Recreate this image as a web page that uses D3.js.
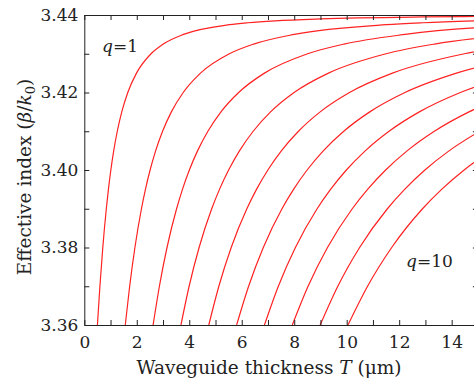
<!DOCTYPE html>
<html>
<head>
<meta charset="utf-8">
<script src="https://cdn.jsdelivr.net/npm/d3@7"></script>
<style>
  html, body { margin: 0; padding: 0; background: #fff; overflow: hidden; }
  text { font-family: "DejaVu Serif", "Liberation Serif", serif; fill: #222; }
  .axis path, .axis line { stroke: #222; stroke-width: 1; }
  .mode { fill: none; stroke: #f22; stroke-width: 1.2; }
</style>
</head>
<body>
<div id="container"></div>
<script>
//Effective index levels (shared by all modes) and thickness T where each mode reaches them
const neffLevels = [3.36, 3.37, 3.38, 3.39, 3.395, 3.40, 3.405, 3.41, 3.415, 3.42, 3.425, 3.43,
  3.4325, 3.435, 3.4375, 3.438, 3.4385, 3.439, 3.4395, 3.4396, 3.4397];

const mode1 = [0.50, 0.595, 0.705, 0.839, 0.919, 1.012, 1.122, 1.257, 1.428, 1.657, 1.989, 2.543, 3.007, 3.783, 5.534, 6.238, 7.271, 9.002, 12.91, 14.49, 16.79];
const mode2 = [1.561, 1.729, 1.929, 2.178, 2.330, 2.508, 2.721, 2.983, 3.318, 3.770, 4.428, 5.528, 6.453, 8.004, 11.501, 12.909, 14.974, 18.44];
const mode3 = [2.622, 2.862, 3.152, 3.517, 3.741, 4.004, 4.320, 4.710, 5.209, 5.882, 6.866, 8.513, 9.900, 12.224, 17.469];
const mode4 = [3.683, 3.995, 4.375, 4.856, 5.152, 5.500, 5.919, 6.436, 7.099, 7.995, 9.305, 11.499, 13.347, 16.445];
const mode5 = [4.744, 5.128, 5.598, 6.195, 6.563, 6.996, 7.517, 8.162, 8.989, 10.107, 11.743, 14.484, 16.794];
const mode6 = [5.805, 6.262, 6.822, 7.534, 7.974, 8.492, 9.116, 9.888, 10.879, 12.220, 14.182, 17.470];
const mode7 = [6.866, 7.395, 8.045, 8.873, 9.385, 9.988, 10.715, 11.614, 12.769, 14.332, 16.620];
const mode8 = [7.927, 8.528, 9.268, 10.212, 10.796, 11.484, 12.313, 13.341, 14.660, 16.445];
const mode9 = [8.988, 9.662, 10.492, 11.551, 12.207, 12.980, 13.912, 15.067];
const mode10 = [10.048, 10.795, 11.715, 12.890, 13.618, 14.476, 15.511];
const modes = [mode1, mode2, mode3, mode4, mode5, mode6, mode7, mode8, mode9, mode10];

//Ticks
const xTicks = [0, 1, 2, 3, 4, 5, 6, 7, 8, 9, 10, 11, 12, 13, 14, 15];
const yTicks = [3.36, 3.37, 3.38, 3.39, 3.40, 3.41, 3.42, 3.43, 3.44];

//Size of the SVG and plot frame (right side falls outside the picture)
const width = 474;
const height = 381;
const plotLeft = 84.3, plotRight = 477.9, plotTop = 15, plotBottom = 325;
const serif = '"DejaVu Serif", "Liberation Serif", serif';

const svg = d3.select('#container').append('svg')
  .attr('width', width)
  .attr('height', height)
  .style('display', 'block');

const x = d3.scaleLinear().domain([0, 15]).range([plotLeft, plotRight]);
const y = d3.scaleLinear().domain([3.36, 3.44]).range([plotBottom, plotTop]);

svg.append('clipPath').attr('id', 'plot-clip')
  .append('rect')
  .attr('x', plotLeft).attr('y', plotTop)
  .attr('width', plotRight - plotLeft).attr('height', plotBottom - plotTop);

//Mode curves
const line = d3.line()
  .x(d => x(d[0]))
  .y(d => y(d[1]))
  .curve(d3.curveMonotoneX);

svg.append('g')
  .attr('clip-path', 'url(#plot-clip)')
  .selectAll('path')
  .data(modes)
  .enter().append('path')
  .attr('class', 'mode')
  .attr('d', m => line(m.map((t, i) => [t, neffLevels[i]])));

//Axes, ticks pointing inwards on all four sides
const fontSize = 17;
const titleSize = 18.5;

svg.append('g')
  .attr('class', 'axis')
  .attr('transform', `translate(0,${plotBottom})`)
  .call(d3.axisBottom(x).tickValues(xTicks).tickSizeInner(-5).tickSizeOuter(0).tickPadding(11)
    .tickFormat(d => d % 2 ? '' : d));

svg.append('g')
  .attr('class', 'axis')
  .attr('transform', `translate(0,${plotTop})`)
  .call(d3.axisTop(x).tickValues(xTicks).tickSizeInner(-5).tickSizeOuter(0).tickFormat(''));

svg.append('g')
  .attr('class', 'axis')
  .attr('transform', `translate(${plotLeft},0)`)
  .call(d3.axisLeft(y).tickValues(yTicks).tickSizeInner(-5).tickSizeOuter(0).tickPadding(6)
    .tickFormat((d, i) => i % 2 ? '' : d3.format('.2f')(d)));

svg.append('g')
  .attr('class', 'axis')
  .attr('transform', `translate(${plotRight},0)`)
  .call(d3.axisRight(y).tickValues(yTicks).tickSizeInner(-5).tickSizeOuter(0).tickFormat(''));

svg.selectAll('.axis text')
  .style('font-size', fontSize + 'px')
  .style('font-family', serif)
  .attr('fill', '#222');

//Axis titles
const xTitle = svg.append('text')
  .attr('x', 269)
  .attr('y', 374)
  .attr('text-anchor', 'middle')
  .style('font-family', serif)
  .style('font-size', titleSize + 'px');
xTitle.append('tspan').text('Waveguide thickness ');
xTitle.append('tspan').style('font-style', 'italic').text('T');
xTitle.append('tspan').text(' (\u03bcm)');

const yTitle = svg.append('text')
  .attr('transform', 'translate(31,177) rotate(-90)')
  .attr('text-anchor', 'middle')
  .style('font-family', serif)
  .style('font-size', titleSize + 'px');
yTitle.append('tspan').text('Effective index (');
yTitle.append('tspan').style('font-style', 'italic').text('\u03b2');
yTitle.append('tspan').text('/');
yTitle.append('tspan').style('font-style', 'italic').text('k');
yTitle.append('tspan').attr('dy', 4).style('font-size', '13px').text('0');
yTitle.append('tspan').attr('dy', -4).text(')');

//Mode labels
const labels = [{ text: '=1', x: 102, y: 52 }, { text: '=10', x: 406, y: 267 }];
labels.forEach(l => {
  const t = svg.append('text')
    .attr('x', l.x)
    .attr('y', l.y)
    .style('font-family', serif)
    .style('font-size', fontSize + 'px');
  t.append('tspan').style('font-style', 'italic').text('q');
  t.append('tspan').text(l.text);
});
</script>
</body>
</html>
